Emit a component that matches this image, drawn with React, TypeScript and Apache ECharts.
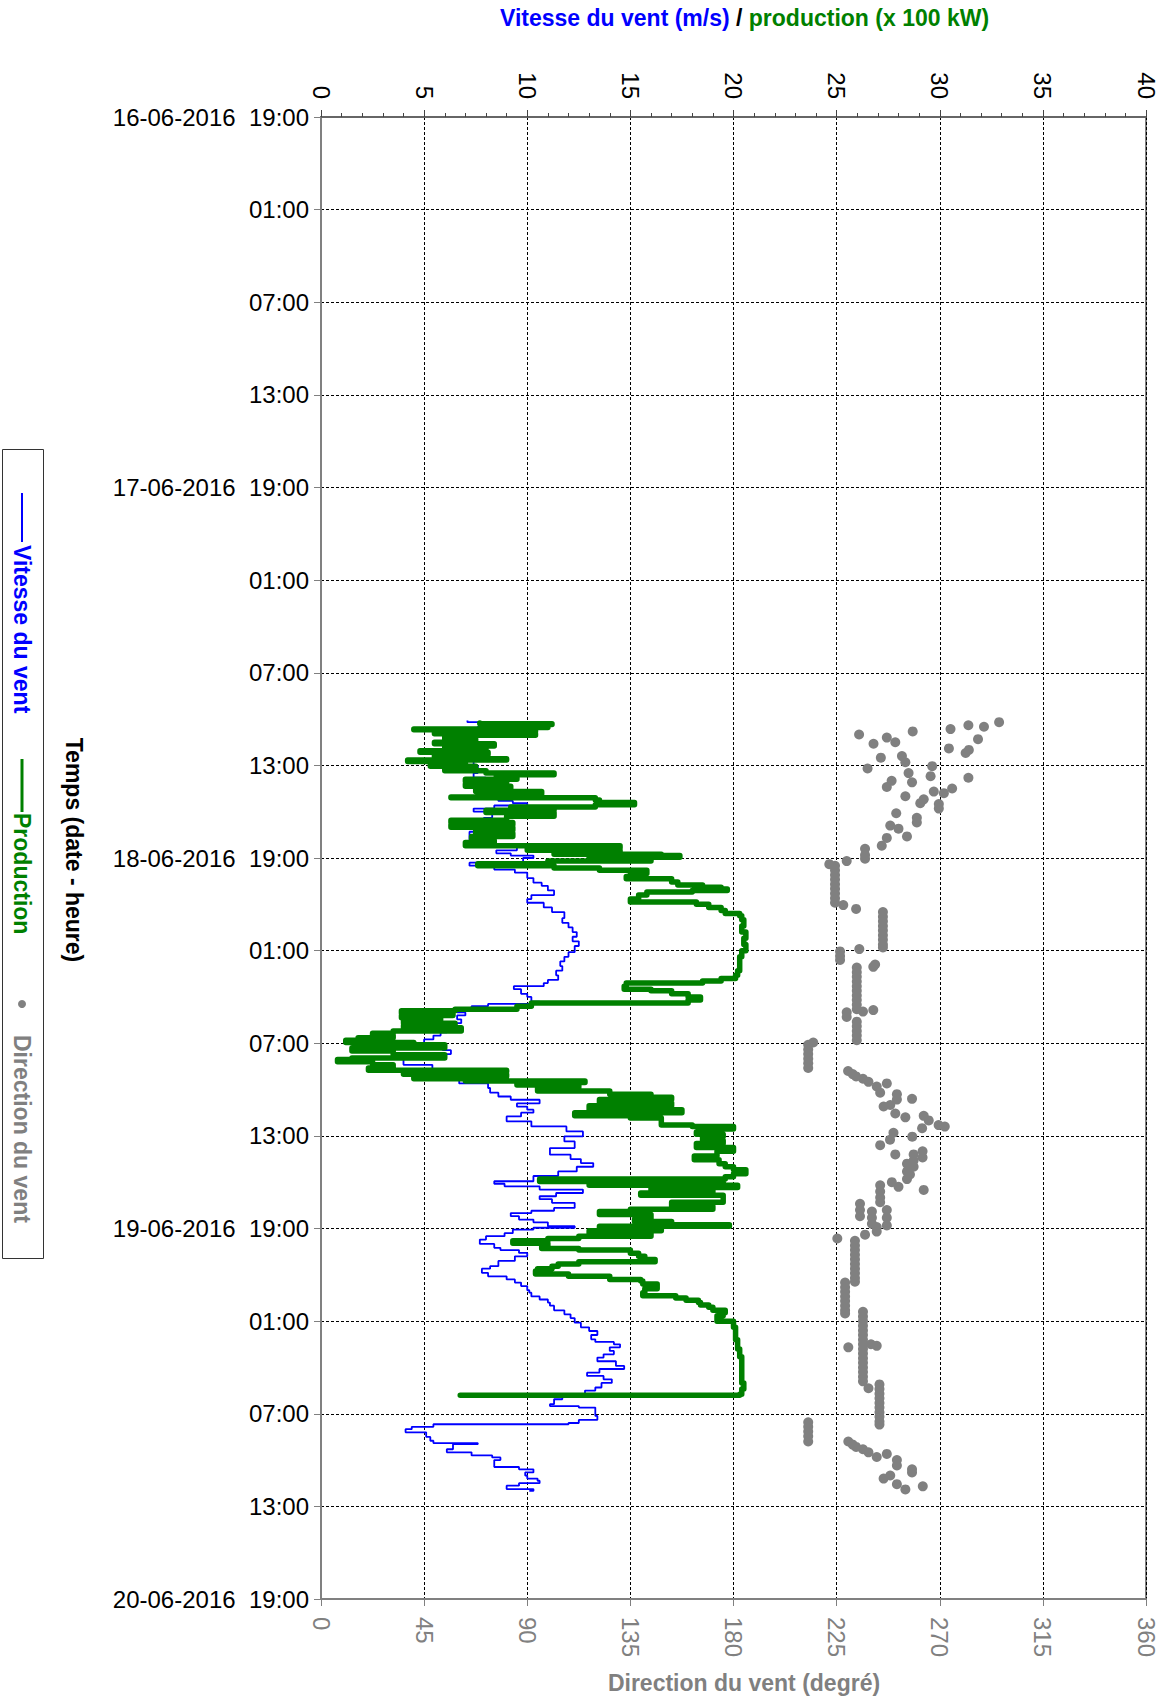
import React, { useEffect, useRef } from 'react';
import * as echarts from 'echarts';

// Time is expressed in hours elapsed since 16-06-2016 19:00
const timeTickLabels = [
  '16-06-2016  19:00', '01:00', '07:00', '13:00',
  '17-06-2016  19:00', '01:00', '07:00', '13:00',
  '18-06-2016  19:00', '01:00', '07:00', '13:00',
  '19-06-2016  19:00', '01:00', '07:00', '13:00',
  '20-06-2016  19:00',
];

// [hour, wind speed m/s]
const windSpeed: number[][] = [
  [39.1, 7.1], [39.2, 7.7], [39.5, 7.6], [39.9, 7.4], [40.3, 7.2], [40.6, 7.5], [41.0, 7.7], [41.5, 7.4],
  [42.0, 7.6], [42.5, 7.4], [42.8, 8.0], [43.2, 7.6], [43.6, 8.2], [44.0, 8.6], [44.3, 9.3], [44.45, 10.0],
  [44.6, 8.4], [44.8, 7.4], [45.0, 8.3], [45.4, 7.9], [45.9, 7.6], [46.3, 7.2], [46.8, 7.8], [47.1, 8.4],
  [47.3, 9.5], [47.5, 8.5], [47.7, 9.2], [47.84, 10.3], [48.0, 9.8], [48.3, 7.2], [48.5, 8.4], [48.75, 9.4],
  [48.95, 10.0], [49.3, 10.3], [49.6, 10.7], [49.8, 11.0], [50.1, 11.3], [50.4, 10.2], [50.66, 10.0], [50.9, 10.8],
  [51.2, 11.2], [51.5, 11.8], [51.9, 11.7], [52.2, 12.0], [52.5, 12.2], [52.8, 12.4], [53.1, 12.2], [53.4, 12.5],
  [53.7, 12.3], [54.1, 12.0], [54.4, 11.8], [54.7, 11.6], [55.0, 11.7], [55.3, 11.4], [55.6, 11.5], [55.9, 11.0],
  [56.1, 10.8], [56.3, 9.35], [56.5, 9.7], [56.8, 10.0], [57.0, 10.2], [57.3, 10.6], [57.45, 8.1], [57.6, 7.3],
  [57.8, 6.6], [58.0, 7.0], [58.2, 6.6], [58.45, 6.8], [58.7, 6.3], [58.9, 6.8], [59.1, 6.1], [59.3, 5.8],
  [59.5, 5.45], [59.75, 5.0], [60.0, 4.6], [60.2, 5.9], [60.45, 6.3], [60.7, 5.2], [60.9, 4.0], [61.2, 4.0],
  [61.4, 5.4], [61.7, 5.6], [62.0, 6.2], [62.3, 6.7], [62.6, 8.1], [62.9, 8.2], [63.2, 8.6], [63.45, 9.2],
  [63.66, 10.6], [63.9, 9.5], [64.1, 10.0], [64.3, 10.3], [64.5, 9.7], [64.74, 9.0], [65.06, 10.2], [65.39, 11.9],
  [65.71, 12.7], [66.03, 11.8], [66.36, 12.3], [66.79, 11.1], [67.22, 12.1], [67.5, 12.6], [67.76, 13.2], [68.0, 12.4],
  [68.3, 11.5], [68.6, 10.3], [68.94, 8.4], [69.1, 8.9], [69.27, 10.6], [69.48, 12.7], [69.7, 11.4], [69.91, 10.6],
  [70.1, 11.2], [70.34, 12.3], [70.67, 11.3], [70.85, 10.2], [71.0, 9.2], [71.2, 9.6], [71.42, 10.3], [71.6, 11.0],
  [71.85, 12.3], [71.95, 10.3], [72.07, 9.3], [72.3, 8.9], [72.5, 8.0], [72.72, 7.7], [73.0, 8.4], [73.25, 8.7],
  [73.4, 9.6], [73.58, 10.0], [73.8, 9.4], [74.1, 8.6], [74.44, 8.2], [74.6, 7.8], [74.87, 8.1], [75.1, 9.0],
  [75.3, 9.4], [75.5, 9.7], [75.73, 10.0], [76.0, 10.1], [76.16, 10.2], [76.4, 10.6], [76.6, 11.0], [76.8, 11.1],
  [77.0, 11.3], [77.3, 11.8], [77.56, 12.1], [77.8, 12.3], [78.1, 12.6], [78.4, 13.0], [78.64, 13.4], [78.9, 13.1],
  [79.18, 13.3], [79.35, 14.2], [79.5, 14.5], [79.7, 14.0], [79.93, 14.2], [80.15, 13.7], [80.36, 13.4], [80.6, 14.3],
  [80.9, 14.7], [81.1, 13.5], [81.34, 12.9], [81.55, 13.7], [81.77, 14.1], [82.0, 13.6], [82.3, 13.3], [82.5, 12.8],
  [82.74, 12.3], [82.9, 11.7], [83.06, 11.3], [83.38, 11.1], [83.5, 12.5], [83.6, 13.3], [83.9, 13.3], [84.14, 13.4],
  [84.4, 12.5], [84.6, 12.0], [84.68, 5.45], [84.85, 4.4], [85.0, 4.1], [85.2, 5.1], [85.5, 5.3], [85.75, 5.45],
  [85.9, 7.6], [85.97, 6.4], [86.3, 6.1], [86.5, 7.3], [86.7, 8.3], [86.83, 8.7], [87.0, 8.4], [87.26, 8.4],
  [87.45, 9.6], [87.6, 10.3], [87.8, 9.9], [88.0, 10.0], [88.2, 10.5], [88.34, 10.6], [88.5, 9.6], [88.66, 9.0],
  [88.88, 10.3], [89.0, 10.1],
];

// [hour, production x 100 kW]
const production: number[][] = [
  [39.25, 7.7], [39.3, 11.2], [39.35, 8.0], [39.4, 11.0], [39.55, 10.3], [39.65, 4.5], [39.7, 10.4], [39.8, 5.5],
  [39.95, 10.4], [40.05, 6.0], [40.3, 7.5], [40.5, 5.5], [40.6, 8.4], [40.75, 6.0], [40.9, 8.0], [41.05, 4.8],
  [41.15, 8.1], [41.3, 5.5], [41.45, 7.5], [41.57, 9.0], [41.65, 4.2], [41.75, 7.0], [41.9, 5.3], [42.05, 7.5],
  [42.2, 6.0], [42.35, 8.0], [42.5, 11.3], [42.6, 8.5], [42.75, 9.5], [42.9, 7.0], [43.05, 9.0], [43.2, 7.0],
  [43.35, 9.2], [43.55, 7.5], [43.7, 10.7], [43.85, 8.0], [44.05, 6.3], [44.1, 13.3], [44.25, 13.5], [44.4, 15.2],
  [44.55, 13.3], [44.7, 9.2], [44.8, 11.3], [44.9, 8.0], [45.05, 11.3], [45.3, 9.0], [45.55, 6.3], [45.7, 9.3],
  [45.85, 6.3], [46.0, 9.3], [46.2, 7.5], [46.4, 9.3], [46.6, 7.3], [46.86, 8.4], [47.0, 7.0], [47.2, 14.5],
  [47.35, 10.0], [47.5, 14.5], [47.6, 11.3], [47.75, 16.5], [47.83, 17.4], [47.95, 13.0], [48.05, 16.0], [48.2, 11.0],
  [48.37, 7.6], [48.5, 11.3], [48.65, 13.5], [48.8, 15.8], [49.0, 15.0], [49.2, 14.8], [49.35, 17.0], [49.56, 17.3],
  [49.75, 18.5], [49.9, 19.4], [50.0, 19.7], [50.1, 18.0], [50.2, 15.8], [50.4, 15.4], [50.66, 15.0], [50.85, 18.2],
  [51.0, 18.8], [51.2, 19.4], [51.4, 19.6], [51.6, 20.3], [51.74, 20.4], [52.0, 20.5], [52.4, 20.4], [52.8, 20.6],
  [53.2, 20.5], [53.6, 20.6], [54.0, 20.4], [54.4, 20.3], [55.0, 20.3], [55.3, 20.2], [55.6, 20.1], [55.8, 19.4],
  [55.96, 18.5], [56.1, 14.8], [56.3, 14.7], [56.5, 16.0], [56.6, 17.0], [56.8, 17.8], [57.0, 18.4], [57.2, 17.8],
  [57.4, 10.2], [57.6, 9.5], [57.8, 6.5], [57.9, 3.9], [58.05, 6.4], [58.2, 3.9], [58.35, 5.8], [58.5, 4.0],
  [58.7, 6.5], [58.85, 4.0], [59.0, 6.8], [59.2, 3.5], [59.35, 2.5], [59.5, 3.5], [59.65, 1.8], [59.8, 1.2],
  [59.95, 4.5], [60.1, 6.0], [60.3, 1.5], [60.5, 3.5], [60.75, 6.0], [60.95, 1.5], [61.05, 0.8], [61.2, 2.5],
  [61.4, 3.5], [61.6, 2.3], [61.75, 9.0], [61.85, 4.0], [62.0, 9.0], [62.15, 4.5], [62.3, 7.0], [62.45, 12.8],
  [62.55, 9.5], [62.7, 12.5], [62.85, 10.5], [63.1, 14.0], [63.3, 16.0], [63.5, 17.0], [63.65, 13.5], [63.85, 17.0],
  [64.05, 13.0], [64.3, 17.5], [64.5, 12.3], [64.7, 15.0], [64.85, 16.5], [65.1, 16.5], [65.3, 18.0], [65.39, 20.0],
  [65.55, 19.0], [65.75, 18.2], [65.9, 19.5], [66.05, 18.5], [66.3, 19.5], [66.5, 18.2], [66.75, 20.0], [67.0, 19.2],
  [67.3, 18.1], [67.55, 19.3], [67.8, 19.6], [68.0, 20.0], [68.2, 20.6], [68.45, 20.0], [68.65, 19.6], [68.8, 10.6],
  [68.95, 19.5], [69.1, 13.0], [69.2, 20.2], [69.35, 16.0], [69.5, 19.0], [69.7, 15.5], [69.85, 19.5], [70.1, 19.5],
  [70.3, 17.0], [70.56, 19.0], [70.75, 15.0], [70.9, 13.5], [71.1, 16.0], [71.4, 15.2], [71.55, 17.0], [71.75, 19.8],
  [71.85, 13.5], [72.0, 16.5], [72.15, 13.0], [72.3, 16.0], [72.5, 12.5], [72.65, 11.0], [72.8, 9.3], [72.95, 11.0],
  [73.15, 10.7], [73.3, 12.5], [73.4, 15.0], [73.6, 15.4], [73.8, 15.7], [74.0, 16.2], [74.15, 12.5], [74.3, 11.5],
  [74.44, 11.2], [74.6, 10.5], [74.76, 10.4], [74.95, 12.0], [75.1, 14.0], [75.3, 15.5], [75.4, 15.6], [75.6, 16.3],
  [75.73, 16.3], [75.9, 15.7], [76.16, 15.6], [76.35, 17.2], [76.5, 17.7], [76.65, 18.3], [76.8, 18.4], [76.95, 18.8],
  [77.1, 19.0], [77.3, 19.6], [77.46, 19.5], [77.65, 19.2], [77.8, 19.2], [78.0, 20.0], [78.4, 20.1], [78.75, 20.1],
  [79.2, 20.2], [79.8, 20.3], [80.3, 20.4], [80.9, 20.4], [81.5, 20.4], [82.0, 20.5], [82.4, 20.4], [82.74, 20.3],
  [82.8, 6.75],
];

// [hour, wind direction in degrees]
const windDirection: number[][] = [
  [39.2, 295.9], [39.4, 282.5], [39.5, 289.3], [39.65, 274.7], [39.8, 258.2], [40.0, 234.8], [40.2, 246.9], [40.3, 286.7],
  [40.5, 250.6], [40.6, 241.1], [40.9, 274.0], [41.0, 282.7], [41.2, 281.3], [41.4, 253.5], [41.5, 244.3], [41.8, 255.0],
  [42.05, 266.7], [42.2, 238.5], [42.5, 256.4], [42.7, 266.0], [42.8, 282.5], [43.0, 249.0], [43.1, 257.9], [43.4, 246.9],
  [43.5, 275.4], [43.7, 267.4], [43.8, 271.8], [44.0, 255.0], [44.2, 263.0], [44.45, 261.5], [44.5, 269.6], [44.8, 269.6],
  [45.1, 251.0], [45.4, 260.0], [45.7, 260.0], [45.9, 248.4], [46.1, 252.0], [46.6, 255.7], [46.7, 246.9], [47.2, 244.7],
  [47.4, 237.4], [47.8, 237.4], [48.05, 237.4], [48.2, 229.4], [48.4, 221.8],
  [48.5, 224.3], [48.8, 224.3], [49.1, 224.3], [49.4, 224.3], [49.7, 224.3], [50.0, 224.3], [50.3, 224.3], [50.6, 224.3],
  [50.9, 224.3], [51.05, 227.9], [51.3, 233.5],
  [51.5, 245.2], [51.8, 245.2], [52.1, 245.2], [52.4, 245.2], [52.7, 245.2], [53.0, 245.2], [53.3, 245.2], [53.6, 245.2],
  [53.8, 245.2], [53.9, 234.9], [54.05, 226.5], [54.35, 226.5], [54.6, 226.5], [54.9, 241.8], [55.05, 241.0],
  [55.1, 233.8], [55.4, 233.8], [55.7, 233.8], [56.0, 233.8], [56.3, 233.8], [56.6, 233.8], [56.9, 233.8], [57.2, 233.8],
  [57.5, 233.8], [57.8, 233.8], [57.95, 236.5], [57.85, 241.0], [58.0, 229.4], [58.3, 229.4],
  [58.6, 233.8], [58.9, 233.8], [59.2, 233.8], [59.5, 233.8], [59.8, 233.8],
  [59.95, 214.8], [60.1, 212.6], [60.4, 212.6], [60.7, 212.6], [61.0, 212.6], [61.3, 212.6], [61.6, 212.6],
  [61.8, 230.0], [62.0, 232.0], [62.15, 233.5], [62.3, 236.5], [62.5, 238.9], [62.8, 242.5], [62.6, 246.9], [63.2, 244.0],
  [63.3, 251.3], [63.65, 251.3], [63.6, 257.9], [64.1, 245.5], [64.0, 248.4], [64.55, 250.6], [64.8, 255.0], [64.7, 263.0],
  [65.0, 265.2], [65.5, 262.3], [65.3, 269.5], [65.4, 272.2], [65.8, 249.8], [66.25, 248.3], [66.05, 258.0], [66.6, 244.0],
  [67.2, 250.6], [67.2, 258.6], [67.6, 258.6], [68.0, 258.6], [67.0, 262.5], [67.4, 262.5], [67.8, 255.7], [68.3, 255.7],
  [68.8, 255.7], [68.5, 257.0], [69.5, 263.0], [69.0, 249.1], [69.3, 252.0], [69.2, 244.0], [69.6, 244.0], [70.0, 244.0],
  [70.3, 244.0], [70.4, 235.2], [70.8, 235.2], [71.2, 235.2], [70.9, 240.4], [71.3, 240.4], [71.7, 240.4], [70.8, 246.9],
  [71.3, 246.9], [71.8, 246.9], [71.9, 242.5], [72.2, 242.5], [72.4, 237.4], [72.65, 225.3],
  [72.8, 233.0], [73.1, 233.0], [73.4, 233.0], [73.7, 233.0], [74.0, 233.0], [74.3, 233.0], [74.6, 233.0], [74.9, 233.0],
  [75.2, 233.0], [75.45, 233.0],
  [75.5, 228.7], [75.8, 228.7], [76.1, 228.7], [76.4, 228.7], [76.7, 228.7], [77.0, 228.7], [77.3, 228.7], [77.5, 228.7],
  [77.4, 236.5], [77.7, 236.5], [78.0, 236.5], [78.3, 236.5], [78.6, 236.5], [78.9, 236.5], [79.2, 236.5], [79.5, 236.5],
  [79.8, 236.5], [80.1, 236.5], [80.4, 236.5], [80.7, 236.5], [81.0, 236.5], [81.3, 236.5], [81.6, 236.5], [81.9, 236.5],
  [79.7, 230.1], [79.5, 240.0], [79.6, 242.5], [82.35, 238.9],
  [82.1, 243.7], [82.4, 243.7], [82.7, 243.7], [83.0, 243.7], [83.3, 243.7], [83.6, 243.7], [83.9, 243.7], [84.2, 243.7],
  [84.5, 243.7], [84.7, 243.7],
  [84.55, 212.6], [84.85, 212.6], [85.15, 212.6], [85.45, 212.6], [85.8, 212.6],
  [85.8, 230.1], [86.0, 232.0], [86.15, 233.5], [86.3, 236.5], [86.5, 238.9], [86.8, 242.5], [86.6, 246.9], [87.0, 251.3],
  [87.35, 251.3], [87.6, 257.9], [87.8, 257.9], [88.2, 245.5], [88.0, 248.4], [88.56, 251.3], [88.9, 255.0], [88.7, 262.6],
];

const FONT = '"Liberation Sans", Arial, Helvetica, sans-serif';
const BLUE = '#0000ff';
const GREEN = '#008000';
const GRAY = '#808080';

// Each sampled value is held until the next sample (step rendering, time on the vertical axis)
function heldSteps(pts: number[][]): number[][] {
  const out: number[][] = [];
  pts.forEach((p, i) => {
    out.push([p[1], p[0]]);
    if (i < pts.length - 1) out.push([p[1], pts[i + 1][0]]);
  });
  return out;
}

export default function App() {
  const ref = useRef<HTMLDivElement>(null);

  useEffect(() => {
    if (!ref.current) return;
    const chart = echarts.init(ref.current, undefined, { renderer: 'svg' });

    const option: any = {
      animation: false,
      backgroundColor: '#ffffff',
      grid: {
        left: 321, right: 24, top: 117, bottom: 102,
        show: true, borderColor: GRAY, borderWidth: 2, backgroundColor: 'transparent',
      },
      xAxis: [
        {
          type: 'value', position: 'top', min: 0, max: 40, interval: 5,
          axisLine: { show: true, lineStyle: { color: '#666', width: 2 } },
          axisTick: { show: true, length: 7, lineStyle: { color: '#444' } },
          minorTick: { show: true, splitNumber: 5, length: 4, lineStyle: { color: '#444' } },
          axisLabel: { rotate: -90, fontSize: 24, color: '#000', fontFamily: FONT, margin: 18 },
          splitLine: { show: true, lineStyle: { color: '#000', type: [3, 2], width: 1 } },
        },
        {
          type: 'value', position: 'bottom', min: 0, max: 360, interval: 45,
          axisLine: { show: true, lineStyle: { color: GRAY, width: 2 } },
          axisTick: { show: true, length: 7, lineStyle: { color: GRAY } },
          axisLabel: { rotate: -90, fontSize: 24, color: GRAY, fontFamily: FONT, margin: 18 },
          splitLine: { show: false },
        },
      ],
      yAxis: {
        type: 'value', inverse: true, min: 0, max: 96, interval: 6,
        axisLine: { show: true, lineStyle: { color: GRAY, width: 2 } },
        axisTick: { show: true, length: 7, lineStyle: { color: GRAY } },
        axisLabel: {
          fontSize: 24, color: '#000', fontFamily: FONT, margin: 12,
          formatter: (v: number) => timeTickLabels[Math.round(v / 6)] ?? '',
        },
        splitLine: { show: true, lineStyle: { color: '#000', type: [3, 2], width: 1 } },
      },
      series: [
        {
          name: 'Vitesse du vent', type: 'line', xAxisIndex: 0, yAxisIndex: 0,
          data: heldSteps(windSpeed),
          showSymbol: false, symbol: 'none',
          lineStyle: { color: BLUE, width: 1.8 }, z: 3,
        },
        {
          name: 'Production', type: 'line', xAxisIndex: 0, yAxisIndex: 0,
          data: heldSteps(production),
          showSymbol: false, symbol: 'none',
          lineStyle: { color: GREEN, width: 5.5, cap: 'round', join: 'round' }, z: 4,
        },
        {
          name: 'Direction du vent', type: 'scatter', xAxisIndex: 1, yAxisIndex: 0,
          data: windDirection.map(([h, d]) => [d, h]),
          symbol: 'circle', symbolSize: 10,
          itemStyle: { color: GRAY, opacity: 1 }, z: 5,
        },
      ],
      graphic: [
        {
          type: 'text', left: 500, top: 6,
          style: {
            text: '{a|Vitesse du vent (m/s)} {b|/} {c|production (x 100 kW)}',
            font: `bold 23px ${FONT}`,
            rich: {
              a: { fill: BLUE, font: `bold 23px ${FONT}` },
              b: { fill: '#000', font: `bold 23px ${FONT}` },
              c: { fill: GREEN, font: `bold 23px ${FONT}` },
            },
          },
        },
        {
          type: 'text', x: 744, y: 1683,
          style: {
            text: 'Direction du vent (degré)', fill: GRAY, font: `bold 23px ${FONT}`,
            align: 'center', verticalAlign: 'middle',
          },
        },
        {
          type: 'text', x: 74, y: 850, rotation: -Math.PI / 2,
          style: {
            text: 'Temps (date - heure)', fill: '#000', font: `bold 23px ${FONT}`,
            align: 'center', verticalAlign: 'middle',
          },
        },
        {
          type: 'rect', shape: { x: 2.5, y: 449.5, width: 41, height: 809 },
          style: { fill: '#fff', stroke: '#333', lineWidth: 1 },
        },
        { type: 'line', shape: { x1: 22, y1: 493, x2: 22, y2: 542 }, style: { stroke: BLUE, lineWidth: 2 } },
        {
          type: 'text', x: 22, y: 545, rotation: -Math.PI / 2,
          style: { text: 'Vitesse du vent', fill: BLUE, font: `bold 23px ${FONT}`, align: 'left', verticalAlign: 'middle' },
        },
        { type: 'line', shape: { x1: 22, y1: 759, x2: 22, y2: 812 }, style: { stroke: GREEN, lineWidth: 3 } },
        {
          type: 'text', x: 22, y: 813, rotation: -Math.PI / 2,
          style: { text: 'Production', fill: GREEN, font: `bold 23px ${FONT}`, align: 'left', verticalAlign: 'middle' },
        },
        { type: 'circle', shape: { cx: 22, cy: 1004, r: 4 }, style: { fill: GRAY } },
        {
          type: 'text', x: 22, y: 1035, rotation: -Math.PI / 2,
          style: { text: 'Direction du vent', fill: GRAY, font: `bold 23px ${FONT}`, align: 'left', verticalAlign: 'middle' },
        },
      ],
    };

    chart.setOption(option);
    return () => chart.dispose();
  }, []);

  return (
    <div
      ref={ref}
      style={{ position: 'absolute', left: 0, top: 0, width: 1170, height: 1701, background: '#fff' }}
    />
  );
}
